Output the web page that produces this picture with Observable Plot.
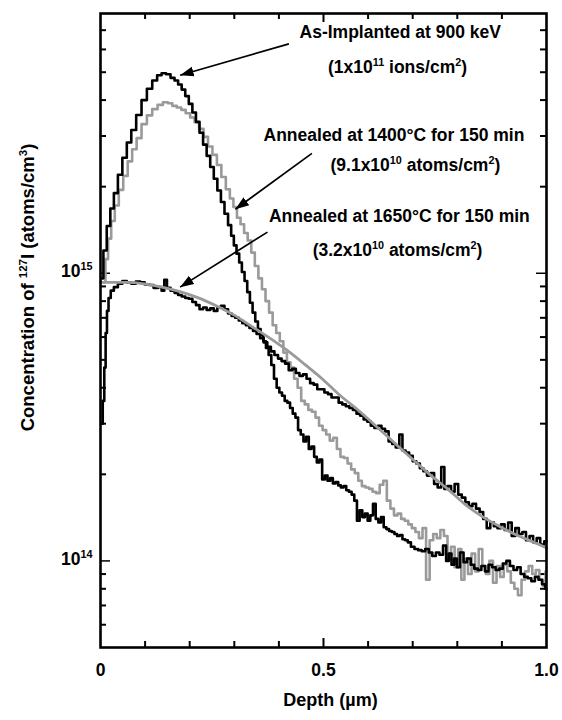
<!DOCTYPE html>
<html>
<head>
<meta charset="utf-8">
<script src="https://cdn.jsdelivr.net/npm/d3@7"></script>
<script src="https://cdn.jsdelivr.net/npm/@observablehq/plot@0.6"></script>
<style>
  html, body { margin: 0; padding: 0; background: #fff; }
  #chart { width: 562px; height: 720px; }
</style>
</head>
<body>
<div id="chart"></div>
<script>
// Depth (µm) and concentration (units of 1e14 atoms/cm³)
const asImplDepth = [0.003,0.010,0.018,0.026,0.034,0.044,0.054,0.064,0.074,0.086,0.098,0.110,0.122,0.132,0.142,0.152,0.162,0.170,0.178,0.186,0.194,0.202,0.210,0.218,0.226,0.234,0.242,0.250,0.258,0.266,0.274,0.282,0.290,0.296,0.302,0.308,0.314,0.320,0.326,0.332,0.338,0.344,0.350,0.356,0.362,0.368,0.374,0.380,0.386,0.392,0.398,0.404,0.410,0.416,0.422,0.428,0.434,0.440,0.446,0.452,0.458,0.464,0.470,0.476,0.482,0.488,0.494,0.500,0.506,0.512,0.518,0.524,0.530,0.536,0.542,0.548,0.554,0.560,0.566,0.572,0.578,0.584,0.590,0.596,0.602,0.608,0.614,0.620,0.626,0.632,0.638,0.644,0.650,0.656,0.662,0.668,0.674,0.680,0.686,0.692,0.700,0.708,0.716,0.724,0.732,0.740,0.748,0.756,0.764,0.772,0.778,0.784,0.790,0.796,0.802,0.810,0.818,0.826,0.834,0.842,0.850,0.858,0.866,0.874,0.882,0.890,0.898,0.906,0.914,0.922,0.930,0.938,0.946,0.954,0.962,0.970,0.978,0.986,0.994,1.000];
const asImplConc = [9.6,12.0,14.6,16.8,19.0,22.0,25.2,28.5,31.5,35.5,40.0,43.8,46.8,48.8,49.6,49.2,47.8,46.8,45.3,43.5,41.3,38.8,36.2,33.6,30.8,28.0,25.6,23.4,21.3,19.4,17.7,16.1,14.7,13.5,12.5,11.7,10.9,10.1,9.4,8.6,7.9,7.3,6.8,6.4,6.1,5.8,5.5,5.2,4.8,4.3,4.0,3.85,3.75,3.6,3.55,3.4,3.25,3.15,2.85,2.75,2.6,2.7,2.45,2.5,2.3,2.2,2.25,1.92,1.98,1.90,1.94,1.86,1.88,1.83,1.80,1.82,1.76,1.74,1.70,1.62,1.38,1.50,1.42,1.46,1.38,1.44,1.58,1.40,1.36,1.42,1.31,1.29,1.27,1.26,1.24,1.22,1.23,1.19,1.18,1.16,1.12,1.10,1.09,1.08,1.10,1.07,1.04,1.07,1.05,1.13,1.00,1.06,0.97,1.02,0.95,1.07,0.99,1.02,0.97,0.94,0.93,0.96,0.92,0.97,0.95,0.93,0.94,0.98,1.00,0.96,0.93,0.95,0.90,0.88,0.87,0.85,0.88,0.86,0.83,0.80];

const ann1400Depth = [0.008,0.014,0.020,0.028,0.036,0.046,0.056,0.066,0.076,0.086,0.098,0.110,0.122,0.134,0.146,0.156,0.166,0.176,0.186,0.196,0.206,0.216,0.226,0.236,0.246,0.256,0.266,0.276,0.286,0.294,0.302,0.310,0.318,0.326,0.334,0.342,0.350,0.358,0.366,0.374,0.382,0.390,0.398,0.406,0.414,0.422,0.430,0.438,0.446,0.454,0.462,0.470,0.478,0.486,0.494,0.502,0.510,0.518,0.526,0.534,0.542,0.550,0.558,0.566,0.574,0.582,0.590,0.598,0.606,0.614,0.622,0.630,0.638,0.646,0.654,0.662,0.670,0.678,0.686,0.694,0.702,0.710,0.718,0.726,0.734,0.742,0.750,0.758,0.766,0.774,0.782,0.790,0.798,0.806,0.812,0.820,0.828,0.836,0.844,0.852,0.860,0.868,0.876,0.884,0.892,0.900,0.908,0.916,0.924,0.932,0.940,0.948,0.956,0.964,0.972,0.980,0.988,0.996,1.000];
const ann1400Conc = [9.3,11.2,13.2,15.2,17.2,19.5,21.8,24.5,27.0,29.5,33.0,35.4,37.2,38.5,39.3,39.0,38.2,37.7,37.0,36.0,34.8,33.5,31.8,29.8,27.6,25.8,23.8,21.6,19.6,18.2,17.0,15.6,14.8,13.8,13.0,11.8,10.6,9.6,8.8,8.0,7.3,6.6,6.2,5.8,5.3,4.9,4.7,4.3,4.0,3.6,3.5,3.35,3.3,3.15,2.95,2.85,2.75,2.62,2.68,2.45,2.30,2.28,2.18,2.08,2.02,1.90,1.82,1.80,1.78,1.74,1.72,1.84,1.90,1.62,1.52,1.44,1.46,1.40,1.38,1.34,1.30,1.26,1.20,1.30,0.86,1.18,1.24,1.20,1.28,1.22,1.06,1.12,0.95,1.10,0.86,1.02,0.90,1.06,0.92,1.10,0.96,0.90,1.00,0.84,0.96,0.88,0.97,0.92,0.84,0.80,0.76,0.86,0.92,0.96,0.90,0.93,0.86,0.82,0.92];

const ann1650Depth = [0.003,0.007,0.010,0.013,0.016,0.020,0.026,0.034,0.044,0.054,0.064,0.074,0.084,0.094,0.104,0.114,0.124,0.134,0.140,0.146,0.152,0.162,0.170,0.178,0.186,0.194,0.202,0.210,0.218,0.226,0.234,0.242,0.250,0.258,0.266,0.274,0.282,0.290,0.298,0.306,0.314,0.322,0.330,0.338,0.346,0.354,0.362,0.370,0.378,0.386,0.394,0.402,0.410,0.418,0.426,0.434,0.442,0.450,0.458,0.466,0.474,0.482,0.490,0.498,0.506,0.514,0.522,0.530,0.538,0.546,0.554,0.562,0.570,0.578,0.586,0.594,0.602,0.610,0.618,0.626,0.634,0.642,0.650,0.658,0.666,0.674,0.680,0.688,0.696,0.704,0.712,0.720,0.728,0.736,0.744,0.752,0.760,0.768,0.774,0.782,0.790,0.798,0.806,0.814,0.822,0.830,0.838,0.846,0.854,0.862,0.870,0.878,0.886,0.894,0.902,0.910,0.918,0.926,0.934,0.942,0.950,0.958,0.966,0.974,0.982,0.990,1.000];
const ann1650Conc = [3.0,3.6,4.7,6.2,7.4,8.2,8.7,8.95,9.2,9.4,9.3,9.2,9.35,9.3,9.15,9.1,8.9,8.95,8.7,9.5,8.9,8.7,8.55,8.4,8.3,8.2,8.15,7.95,7.75,7.5,7.6,7.45,7.55,7.4,7.6,7.7,7.5,7.25,7.1,7.0,6.85,6.7,6.6,6.45,6.3,6.15,5.95,5.75,5.55,5.35,5.2,5.05,4.95,4.85,4.6,4.65,4.5,4.4,4.45,4.3,4.15,4.1,3.95,3.95,3.85,3.8,3.7,3.7,3.55,3.5,3.45,3.4,3.35,3.25,3.2,3.1,3.05,2.95,2.9,2.95,2.88,2.82,2.6,2.55,2.48,2.75,2.42,2.38,2.32,2.22,2.18,2.10,2.05,1.98,2.02,1.85,1.80,2.12,1.78,1.82,1.74,1.85,1.70,1.66,1.60,1.55,1.58,1.52,1.48,1.40,1.30,1.36,1.32,1.30,1.34,1.28,1.36,1.22,1.30,1.24,1.26,1.18,1.22,1.16,1.20,1.14,1.17];

const fitDepth = [0.000,0.058,0.098,0.138,0.178,0.218,0.258,0.298,0.338,0.378,0.418,0.458,0.498,0.538,0.578,0.618,0.658,0.698,0.738,0.778,0.818,0.858,0.898,0.938,0.978,1.000];
const fitConc = [9.29,9.29,9.19,8.95,8.63,8.23,7.73,7.18,6.55,5.97,5.40,4.82,4.28,3.75,3.34,2.94,2.58,2.27,2.00,1.78,1.57,1.42,1.31,1.22,1.15,1.11];

// Axis ticks and labels (^{..} marks a superscript)
const xTickValues = [0.1,0.2,0.3,0.4,0.6,0.7,0.8,0.9];
const xMajorTicks = [0.5];
const xLabelValues = [0, 0.5, 1.0];
const xLabelText = ["0", "0.5", "1.0"];
const yMajorTicks = [1e14, 1e15];
const yLabelText = ["10^{14}", "10^{15}"];
const yMinorTicks = [6e13,7e13,8e13,9e13,2e14,3e14,4e14,5e14,6e14,7e14,8e14,9e14,2e15,3e15,4e15,5e15,6e15,7e15];
const xTitle = "Depth (\u00B5m)";
const yTitle = "Concentration of ^{127}I (atoms/cm^{3})";

// Annotations
const annotText = ["As-Implanted at 900 keV", "(1x10^{11} ions/cm^{2})", "Annealed at 1400\u00B0C for 150 min", "(9.1x10^{10} atoms/cm^{2})", "Annealed at 1650\u00B0C for 150 min", "(3.2x10^{10} atoms/cm^{2})"];
const annotDepth = [0.672, 0.666, 0.658, 0.706, 0.670, 0.666];
const annotConc = [69, 52, 30.2, 23.8, 15.8, 12.0];
const arrowFromDepth = [0.4224, 0.474, 0.3744];
const arrowFromConc = [62.7, 26.1, 13.9];
const arrowToDepth = [0.1784, 0.3024, 0.1784];
const arrowToConc = [48.8, 16.7, 8.95];

const U = 1e14;
const toRows = (d, c) => d.map((x, i) => ({x, y: c[i] * U}));
const asImpl = toRows(asImplDepth, asImplConc);
const ann1400 = toRows(ann1400Depth, ann1400Conc);
const ann1650 = toRows(ann1650Depth, ann1650Conc);
const fit = toRows(fitDepth, fitConc);
const annots = annotText.map((t, i) => ({t, x: annotDepth[i], y: annotConc[i] * U}));
const arrows = arrowFromDepth.map((x1, i) => ({x1, y1: arrowFromConc[i] * U, x2: arrowToDepth[i], y2: arrowToConc[i] * U}));

const W = 562, H = 720, mT = 13, mB = 73, mL = 100, mR = 16;
const pW = W - mL - mR, pH = H - mT - mB;
const font = "'Liberation Sans', Arial, Helvetica, sans-serif";

function filledArrow(color) {
  const m = d3.create("svg:marker")
    .attr("viewBox", "-10 -5 10 10")
    .attr("markerWidth", 8).attr("markerHeight", 8)
    .attr("orient", "auto")
    .attr("fill", color).attr("stroke", "none");
  m.append("path").attr("d", "M-10,-3.6L0,0L-10,3.6Z");
  return m.node();
}

const arrowMarks = (() => {
  try {
    return Plot.link(arrows, {x1: "x1", y1: "y1", x2: "x2", y2: "y2", stroke: "#000", strokeWidth: 1.7, markerEnd: filledArrow});
  } catch (e) {
    return Plot.arrow(arrows, {x1: "x1", y1: "y1", x2: "x2", y2: "y2", stroke: "#000", strokeWidth: 1.7, headLength: 13, headAngle: 40});
  }
})();

const chart = Plot.plot({
  width: W, height: H,
  marginTop: mT, marginBottom: mB, marginLeft: mL, marginRight: mR,
  style: {fontFamily: font, fontWeight: "bold", background: "#fff", color: "#000", overflow: "visible"},
  x: {domain: [0, 1], axis: null},
  y: {type: "log", domain: [5e13, 8e15], axis: null},
  marks: [
    // ticks (inward)
    Plot.tickX(xTickValues, {x: d => d, insetTop: pH - 6, stroke: "#000", strokeWidth: 2}),
    Plot.tickX(xTickValues, {x: d => d, insetBottom: pH - 6, stroke: "#000", strokeWidth: 2}),
    Plot.tickX(xMajorTicks, {x: d => d, insetTop: pH - 9, stroke: "#000", strokeWidth: 2}),
    Plot.tickX(xMajorTicks, {x: d => d, insetBottom: pH - 9, stroke: "#000", strokeWidth: 2}),
    Plot.tickY(yMinorTicks, {y: d => d, insetRight: pW - 6, stroke: "#000", strokeWidth: 2}),
    Plot.tickY(yMinorTicks, {y: d => d, insetLeft: pW - 6, stroke: "#000", strokeWidth: 2}),
    Plot.tickY(yMajorTicks, {y: d => d, insetRight: pW - 10, stroke: "#000", strokeWidth: 1.5}),
    Plot.tickY(yMajorTicks, {y: d => d, insetLeft: pW - 10, stroke: "#000", strokeWidth: 1.5}),
    // data
    Plot.line(ann1400, {x: "x", y: "y", stroke: "#9a9a9a", strokeWidth: 2.6, curve: "step"}),
    Plot.line(asImpl, {x: "x", y: "y", stroke: "#000", strokeWidth: 2.6, curve: "step"}),
    Plot.line(ann1650, {x: "x", y: "y", stroke: "#000", strokeWidth: 2.6, curve: "step"}),
    Plot.line(fit, {x: "x", y: "y", stroke: "#9a9a9a", strokeWidth: 2.8, curve: "monotone-x"}),
    Plot.frame({stroke: "#000", strokeWidth: 2.6}),
    // tick labels
    Plot.text(xLabelValues, {x: d => d, text: (d, i) => xLabelText[i], frameAnchor: "bottom", dy: 28, fontSize: 17.5, fill: "#000"}),
    Plot.text(yMajorTicks, {y: d => d, text: (d, i) => yLabelText[i], frameAnchor: "left", dx: -8, dy: -2, textAnchor: "end", fontSize: 17.5, fill: "#000"}),
    // axis titles
    Plot.text([xTitle], {frameAnchor: "bottom", dx: 7, dy: 58, fontSize: 18, fill: "#000"}),
    Plot.text([yTitle], {frameAnchor: "left", textAnchor: "middle", dx: -72, dy: -43, rotate: -90, fontSize: 18.5, fill: "#000"}),
    // annotations
    Plot.text(annots, {x: "x", y: "y", text: "t", fontSize: 17.5, fill: "#000"}),
    arrowMarks
  ]
});
document.getElementById("chart").appendChild(chart);

// Turn ^{..} into real superscript tspans
d3.select(chart).selectAll("text").each(function () {
  const s = this.textContent;
  if (!s.includes("^{")) return;
  const size = parseFloat(getComputedStyle(this).fontSize) || 15;
  const shift = size * 0.38;
  const el = d3.select(this);
  el.text(null);
  const parts = s.split(/\^\{([^}]*)\}/);
  let raised = false;
  parts.forEach((p, i) => {
    if (p === "") return;
    const ts = el.append("tspan").text(p);
    if (i % 2 === 1) {
      ts.attr("font-size", (size * 0.62).toFixed(1) + "px").attr("dy", -shift);
      raised = true;
    } else if (raised) {
      ts.attr("dy", shift);
      raised = false;
    }
  });
});
</script>
</body>
</html>
